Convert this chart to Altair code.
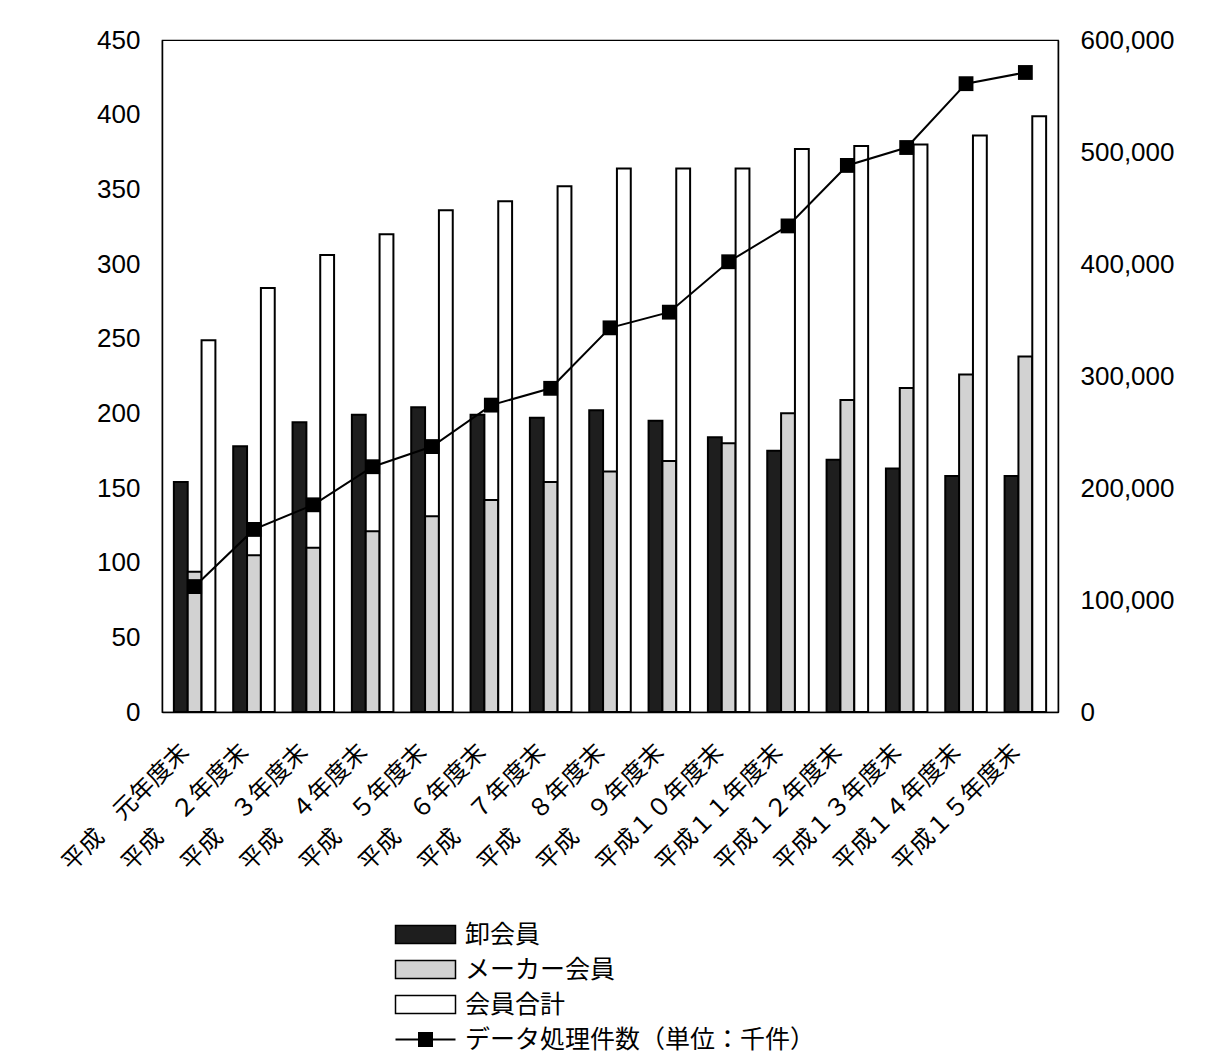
import altair as alt
import pandas as pd

categories = [
    "平成　元年度末", "平成　２年度末", "平成　３年度末", "平成　４年度末", "平成　５年度末",
    "平成　６年度末", "平成　７年度末", "平成　８年度末", "平成　９年度末", "平成１０年度末",
    "平成１１年度末", "平成１２年度末", "平成１３年度末", "平成１４年度末", "平成１５年度末",
]
series_names = ["卸会員", "メーカー会員", "会員合計"]
oroshi = [154, 178, 194, 199, 204, 199, 197, 202, 195, 184, 175, 169, 163, 158, 158]
maker = [94, 105, 110, 121, 131, 142, 154, 161, 168, 180, 200, 209, 217, 226, 238]
total = [249, 284, 306, 320, 336, 342, 352, 364, 364, 364, 377, 379, 380, 386, 399]
line_name = "データ処理件数（単位：千件）"
shori = [112000, 163000, 185000, 219000, 237000, 274000, 289000, 343000, 357000,
         402000, 434000, 488000, 504000, 561000, 571000]
left_ticks = [0, 50, 100, 150, 200, 250, 300, 350, 400, 450]
right_ticks = [0, 100000, 200000, 300000, 400000, 500000, 600000]

rows = []
for i, c in enumerate(categories):
    for s, vals in zip(series_names, [oroshi, maker, total]):
        rows.append({"cat": c, "series": s, "value": vals[i]})
bars_df = pd.DataFrame(rows)
line_df = pd.DataFrame({"cat": categories, "value": shori, "series": [line_name] * len(categories)})

x_enc = alt.X(
    "cat:N", sort=categories,
    scale=alt.Scale(paddingInner=0.3, paddingOuter=0.2),
    axis=alt.Axis(title=None, labelAngle=-45, labelAlign="right", labelBaseline="middle",
                  labelFont="Noto Sans CJK JP", labelFontSize=24, labelColor="black",
                  labelPadding=36, labelOffset=-9, ticks=False, domainColor="black",
                  domainWidth=1.5, labelLimit=400),
)

bars = alt.Chart(bars_df).mark_bar(stroke="black", strokeWidth=2).encode(
    x=x_enc,
    xOffset=alt.XOffset("series:N", sort=series_names,
                        scale=alt.Scale(domain=series_names, paddingInner=0, paddingOuter=0)),
    y=alt.Y("value:Q", scale=alt.Scale(domain=[0, 450], nice=False),
            axis=alt.Axis(title=None, values=left_ticks, labelFont="Liberation Sans",
                          labelFontSize=26, labelColor="black", labelPadding=22,
                          ticks=False, grid=False, domainColor="black", domainWidth=1.5)),
    fill=alt.Fill("series:N", sort=series_names,
                  scale=alt.Scale(domain=series_names, range=["#1e1e1e", "#d2d2d2", "#ffffff"]),
                  legend=alt.Legend(title=None, orient="none", legendX=251, legendY=882,
                                    direction="vertical", symbolType="M-3,-0.9H3V0.9H-3Z",
                                    symbolSize=400, symbolStrokeColor="black",
                                    symbolStrokeWidth=1.5, labelFont="Noto Sans CJK JP",
                                    labelFontSize=25, labelColor="black", labelOffset=27,
                                    rowPadding=9, padding=0, labelLimit=600)),
)

right_axis = alt.Axis(title=None, orient="right", values=right_ticks,
                      labelExpr="format(datum.value, ',')",
                      labelFont="Liberation Sans", labelFontSize=26, labelColor="black",
                      labelPadding=22, ticks=False, grid=False, domainColor="black",
                      domainWidth=1.5)

line = alt.Chart(line_df).mark_line(strokeWidth=2).encode(
    x=alt.X("cat:N", sort=categories),
    y=alt.Y("value:Q", scale=alt.Scale(domain=[0, 600000], nice=False), axis=right_axis),
    stroke=alt.Stroke("series:N",
                      scale=alt.Scale(domain=[line_name], range=["black"]),
                      legend=alt.Legend(title=None, orient="none", legendX=251, legendY=987,
                                        symbolType="M-3,0H3M-0.65,-0.65H0.65V0.65H-0.65Z",
                                        symbolSize=400, symbolFillColor="black",
                                        symbolStrokeColor="black", symbolStrokeWidth=2,
                                        labelFont="Noto Sans CJK JP", labelFontSize=25,
                                        labelColor="black", labelOffset=27, padding=0,
                                        labelLimit=600)),
)

points = alt.Chart(line_df).mark_point(shape="square", filled=True, size=220,
                                       color="black", opacity=1).encode(
    x=alt.X("cat:N", sort=categories),
    y=alt.Y("value:Q", scale=alt.Scale(domain=[0, 600000], nice=False), axis=right_axis),
)

chart = alt.layer(bars, alt.layer(line, points)).resolve_scale(
    y="independent", fill="independent", stroke="independent"
).properties(
    width=896, height=672,
    padding={"left": 154, "top": 32, "right": 149, "bottom": 343},
    autosize=alt.AutoSizeParams(type="none"),
    background="white",
).configure_view(stroke="black", strokeWidth=1.2)

chart.save("out.html", embed_options={"renderer": "svg", "actions": False})
